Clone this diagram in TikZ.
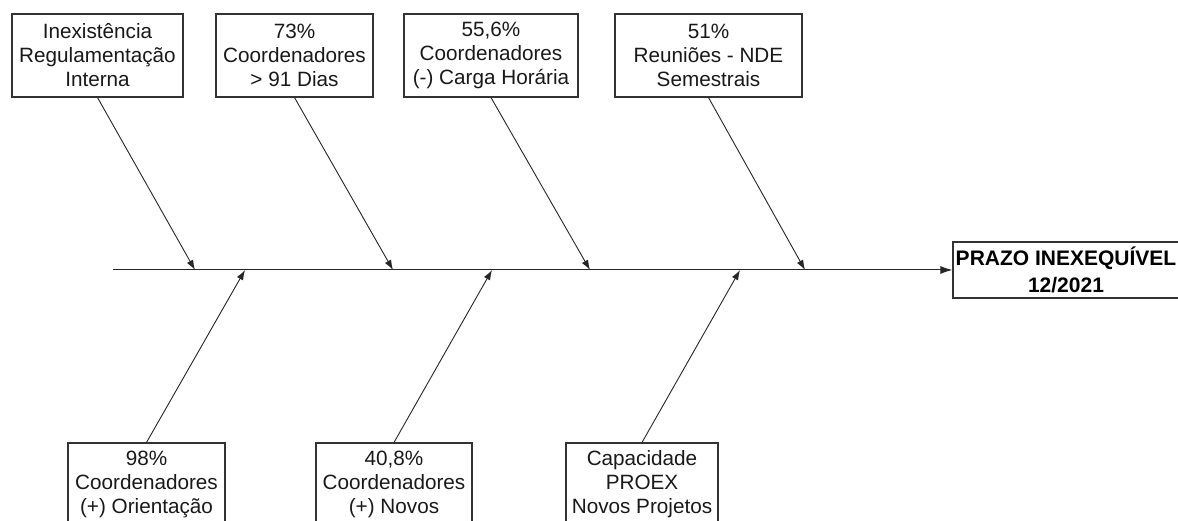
\documentclass[tikz,border=0pt]{standalone}
\usepackage{fontspec}
\setmainfont{Liberation Sans}
\usetikzlibrary{arrows.meta}
\begin{document}
\begin{tikzpicture}[x=1pt,y=-1pt,
  cause/.style={draw=black!80,line width=1.1pt,fill=white,inner sep=0pt,
    minimum height=83pt,align=center,text=black!90,
    font=\fontsize{20.7}{24}\selectfont},
  effect/.style={draw=black!80,line width=1.1pt,fill=white,inner sep=0pt,
    minimum height=56pt,minimum width=226pt,align=center,text=black,
    font=\fontsize{21}{27}\selectfont\bfseries},
  bone/.style={draw=black!85,line width=0.9pt,-{Latex[length=10pt,width=7pt]}},
  spine/.style={draw=black!85,line width=1pt,-{Latex[length=12pt,width=8pt]}}]
\useasboundingbox (0,0) rectangle (1178,521);
\clip (0,0) rectangle (1178,521);
% top causes
\node[cause,minimum width=171pt] (t1) at (97.5,55.5) {Inexistência\\Regulamentação\\Interna};
\node[cause,minimum width=157pt] (t2) at (294.5,55.5) {73\%\\Coordenadores\\> 91 Dias};
\node[cause,minimum width=174pt] (t3) at (491,55.5) {55,6\%\\Coordenadores\\(-) Carga Horária};
\node[cause,minimum width=187pt] (t4) at (708.5,55.5) {51\%\\Reuniões - NDE\\Semestrais};
% bottom causes
\node[cause,minimum width=157pt] (b1) at (146.5,484.5) {98\%\\Coordenadores\\(+) Orientação};
\node[cause,minimum width=156pt] (b2) at (394,484.5) {40,8\%\\Coordenadores\\(+) Novos};
\node[cause,minimum width=152pt] (b3) at (642,484.5) {Capacidade\\PROEX\\Novos Projetos};
% effect
\node[effect] (eff) at (1066,270) {PRAZO INEXEQUÍVEL\\12/2021};
% spine
\coordinate (s0) at (113,270);
\draw[spine] (s0) -- (eff.west);
% joints on spine
\coordinate (j1) at (195,270);
\coordinate (j2) at (393,270);
\coordinate (j3) at (590,270);
\coordinate (j4) at (805,270);
\coordinate (k1) at (245,270);
\coordinate (k2) at (492,270);
\coordinate (k3) at (740,270);
\draw[bone] (t1.south) -- (j1);
\draw[bone] (t2.south) -- (j2);
\draw[bone] (t3.south) -- (j3);
\draw[bone] (t4.south) -- (j4);
\draw[bone] (b1.north) -- (k1);
\draw[bone] (b2.north) -- (k2);
\draw[bone] (b3.north) -- (k3);
\end{tikzpicture}
\end{document}
